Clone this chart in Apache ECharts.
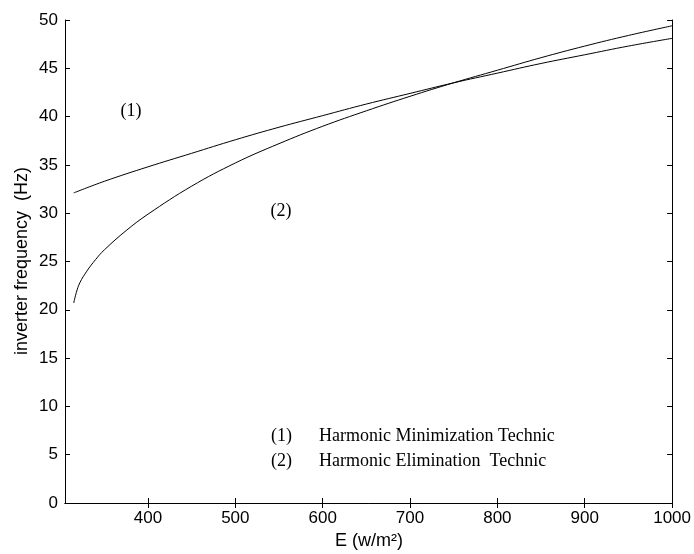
<!DOCTYPE html>
<html>
<head>
<meta charset="utf-8">
<script src="https://cdn.jsdelivr.net/npm/echarts@6/dist/echarts.min.js"></script>
<style>
  html, body { margin: 0; padding: 0; background: #fff; }
  #chart { width: 694px; height: 554px; }
</style>
</head>
<body>
<div id="chart"></div>
<script>
// Irradiance E (w/m²) and inverter frequency (Hz) for the two switching techniques
const minimizationE = [315, 350, 400, 450, 500, 550, 600, 650, 700, 750, 800, 850, 900, 950, 1000];
const minimizationHz = [32.1, 33.3, 34.8, 36.2, 37.6, 38.9, 40.1, 41.3, 42.4, 43.5, 44.5, 45.5, 46.4, 47.3, 48.1];

const eliminationE = [315, 318, 322, 330, 340, 350, 375, 400, 450, 500, 550, 600, 650, 700, 750, 800, 850, 900, 950, 1000];
const eliminationHz = [20.7, 21.8, 22.8, 24.0, 25.2, 26.2, 28.2, 29.9, 32.8, 35.2, 37.2, 39.0, 40.6, 42.1, 43.5, 44.8, 46.1, 47.3, 48.4, 49.4];

const xTicks = [400, 500, 600, 700, 800, 900, 1000];
const xMin = 305, xMax = 1000;
const yMin = 0, yMax = 50, yStep = 5;

const pair = (xs, ys) => xs.map((x, i) => [x, ys[i]]);

const chart = echarts.init(document.getElementById('chart'));
const sans = 'Liberation Sans, Arial, sans-serif';
const serif = 'Liberation Serif, Times New Roman, serif';
const axisFont = { color: '#000', fontFamily: sans, fontSize: 17 };
const lineStyle = { color: '#000', width: 1 };
const plain = v => String(v);

chart.setOption({
  animation: false,
  backgroundColor: '#fff',
  grid: { left: 65, right: 21, top: 20, bottom: 51, containLabel: false },
  xAxis: [
    {
      type: 'value', min: xMin, max: xMax, position: 'bottom',
      axisLine: { show: true, lineStyle },
      axisTick: { show: true, inside: true, length: 5, lineStyle, customValues: xTicks },
      axisLabel: Object.assign({ margin: 7, customValues: xTicks, formatter: plain }, axisFont),
      splitLine: { show: false }
    },
    {
      type: 'value', min: xMin, max: xMax, position: 'top',
      axisLine: { show: true, lineStyle },
      axisTick: { show: true, inside: true, length: 5, lineStyle, customValues: xTicks },
      axisLabel: { show: false },
      splitLine: { show: false }
    }
  ],
  yAxis: [
    {
      type: 'value', min: yMin, max: yMax, interval: yStep, position: 'left',
      axisLine: { show: true, lineStyle },
      axisTick: { show: true, inside: true, length: 5, lineStyle },
      axisLabel: Object.assign({ margin: 7, formatter: plain }, axisFont),
      splitLine: { show: false }
    },
    {
      type: 'value', min: yMin, max: yMax, interval: yStep, position: 'right',
      axisLine: { show: true, lineStyle },
      axisTick: { show: true, inside: true, length: 5, lineStyle },
      axisLabel: { show: false },
      splitLine: { show: false }
    }
  ],
  series: [
    {
      name: 'Harmonic Minimization Technic', type: 'line', smooth: 0.4,
      showSymbol: false, lineStyle, data: pair(minimizationE, minimizationHz)
    },
    {
      name: 'Harmonic Elimination Technic', type: 'line', smooth: 0.4,
      showSymbol: false, lineStyle, data: pair(eliminationE, eliminationHz)
    }
  ],
  graphic: [
    { type: 'text', x: 22, y: 261, rotation: Math.PI / 2,
      style: { text: 'inverter frequency  (Hz)', fill: '#000', font: '18px ' + sans,
               align: 'center', verticalAlign: 'middle' } },
    { type: 'text', x: 369, y: 541,
      style: { text: 'E (w/m²)', fill: '#000', font: '18px ' + sans,
               align: 'center', verticalAlign: 'middle' } },
    { type: 'text', x: 131, y: 111,
      style: { text: '(1)', fill: '#000', font: '18px ' + serif, align: 'center', verticalAlign: 'middle' } },
    { type: 'text', x: 281, y: 211,
      style: { text: '(2)', fill: '#000', font: '18px ' + serif, align: 'center', verticalAlign: 'middle' } },
    { type: 'text', x: 271, y: 436,
      style: { text: '(1)', fill: '#000', font: '18px ' + serif, align: 'left', verticalAlign: 'middle' } },
    { type: 'text', x: 319, y: 436,
      style: { text: 'Harmonic Minimization Technic', fill: '#000', font: '18px ' + serif, align: 'left', verticalAlign: 'middle' } },
    { type: 'text', x: 271, y: 461,
      style: { text: '(2)', fill: '#000', font: '18px ' + serif, align: 'left', verticalAlign: 'middle' } },
    { type: 'text', x: 319, y: 461,
      style: { text: 'Harmonic Elimination  Technic', fill: '#000', font: '18px ' + serif, align: 'left', verticalAlign: 'middle' } }
  ]
});
</script>
</body>
</html>
